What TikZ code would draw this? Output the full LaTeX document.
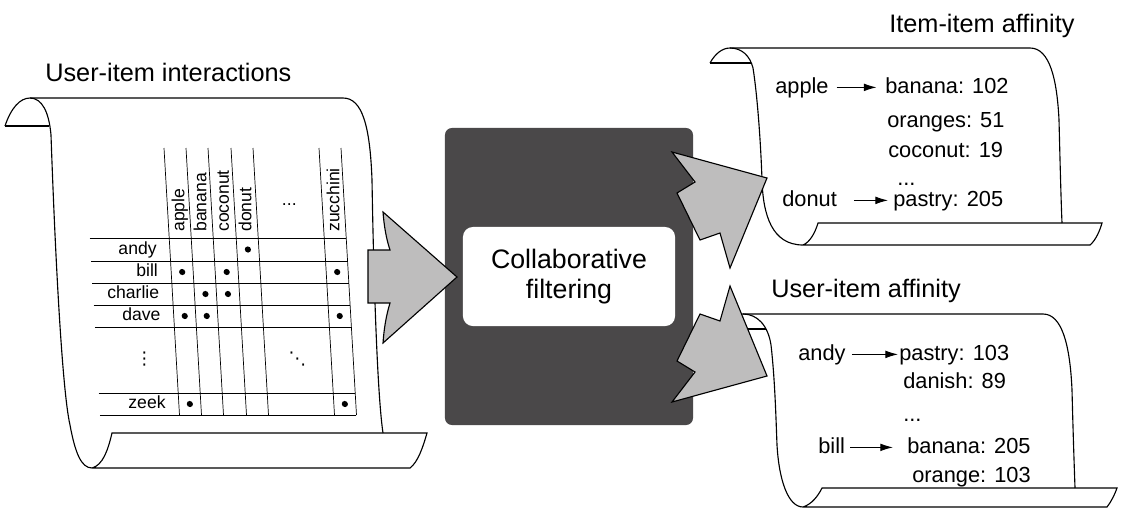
\documentclass[tikz,border=0pt]{standalone}
\usepackage{fontspec}
\setmainfont{Liberation Sans}
\newfontfamily\symfont{DejaVu Sans}
\usetikzlibrary{arrows.meta}

\definecolor{boxgray}{HTML}{4A4849}
\definecolor{arrowgray}{HTML}{BEBDBD}

\tikzset{
  scroll/.style={line width=0.8pt},
  gridline/.style={line width=0.5pt},
  fatarrow/.style={draw=black, fill=arrowgray, line width=0.8pt, line join=miter},
  title/.style={font=\fontsize{18}{21}\selectfont, inner sep=0pt, anchor=base west},
  entry/.style={font=\fontsize{15.5}{18}\selectfont, inner sep=0pt, anchor=base west, text height=11pt, text depth=3pt},
  gap/.style={entry, text height=2pt, text depth=0pt},
  cell/.style={font=\fontsize{12.5}{15}\selectfont, inner sep=0pt, text height=9pt, text depth=2.5pt},
  pointer/.style={-{Latex[length=9pt,width=5.5pt]}, line width=0.7pt},
  darkbox/.style={fill=boxgray, rounded corners=5pt, minimum width=6.2cm, minimum height=7.425cm},
  whitebox/.style={fill=white, rounded corners=7pt, minimum width=5.3cm, minimum height=2.475cm, align=center, font=\fontsize{19}{21.5}\selectfont},
}

\begin{document}
\begin{tikzpicture}[x=0.025cm, y=-0.025cm]
    \useasboundingbox (0,0) rectangle (1122,515);

    % User-item interactions scroll
    \draw[scroll] (5,126) -- (49,126);
    \draw[scroll] (5,126) .. controls (11,108) and (20,98) .. (30,98)
        .. controls (42,98) and (49,112) .. (51,135)
        .. controls (55,250) and (62,390) .. (70,425)
        .. controls (75,452) and (81,468) .. (92,468) -- (410,468)
        .. controls (418,462) and (423,447) .. (427,433) -- (112,433)
        .. controls (108,450) and (103,465) .. (92,468);
    \draw[scroll] (30,98) -- (343,98) .. controls (362,98) and (370,125) .. (372,180)
        .. controls (374,300) and (378,400) .. (383,433);
    \node[title] (ttable) at (45,81) {User-item interactions};

    % Interaction table (slanted)
    \begin{scope}[shift={(0,148)}, xslant=-0.058]
        \foreach \x in {164,186,208,231,253,319,341}
            \draw[gridline] (\x,0) -- (\x,267);
        \foreach \y in {90,113,135,157,179,245,267}
            \draw[gridline] (84.5,\y) -- (341,\y);
        % item headers
        \foreach \name/\x in {apple/175, banana/197, coconut/219.5, donut/242, zucchini/330}
            \node[cell, rotate=90, anchor=west] (h\name) at (\x,84) {\name};
        \node[cell, anchor=base] (hdots) at (286,57) {...};
        % users
        \foreach \name/\y in {andy/101.5, bill/124, charlie/146, dave/168, zeek/256}
            \node[cell, anchor=east] (r\name) at (151,\y) {\name};
        \node[cell] (rdots) at (132,212) {\symfont ⋮};
        \node[cell] (cdots) at (285,212) {\symfont ⋱};
        % interactions
        \foreach \x/\y in {242/101.5, 175/124, 219.5/124, 330/124, 197/146, 219.5/146,
                           175/168, 197/168, 330/168, 175/256, 330/256}
            \fill (\x,\y) circle (2.2pt);
    \end{scope}

    % Item-item affinity scroll
    \draw[scroll] (710,63) -- (751,63);
    \draw[scroll] (710,63) .. controls (715,54) and (722,48) .. (730,48)
        .. controls (742,48) and (750,56) .. (753,68)
        .. controls (758,100) and (761,150) .. (762,180)
        .. controls (763,215) and (772,245) .. (803,245) -- (1090,245)
        .. controls (1096,240) and (1100,230) .. (1102,223) -- (818,223)
        .. controls (815,233) and (810,242) .. (803,245);
    \draw[scroll] (730,48) -- (1030,48) .. controls (1050,48) and (1057,80) .. (1059,120)
        .. controls (1060,160) and (1061,200) .. (1062,223);
    \node[title] (titem) at (889,32) {Item-item affinity};

    \node[entry] (iapple) at (775,93) {apple};
    \node[entry] (ibanana) at (885,93) {banana: 102};
    \node[entry] (ioranges) at (887,127) {oranges: 51};
    \node[entry] (icoconut) at (888,157) {coconut: 19};
    \node[gap] (idots) at (897,185) {...};
    \node[entry] (idonut) at (782,206) {donut};
    \node[entry] (ipastry) at (893,206) {pastry: 205};
    \draw[pointer, shorten <=5.5pt, shorten >=6pt] (iapple) -- (ibanana);
    \draw[pointer, shorten <=12pt, shorten >=3.5pt] (idonut) -- (ipastry);

    % User-item affinity scroll
    \draw[scroll] (723,329) -- (766,329);
    \draw[scroll] (723,329) .. controls (728,320) and (735,314) .. (743,314)
        .. controls (757,314) and (768,325) .. (771,345)
        .. controls (775,380) and (776,420) .. (777,445)
        .. controls (779,480) and (788,507) .. (803,507) -- (1107,507)
        .. controls (1111,502) and (1115,494) .. (1117,488) -- (822,488)
        .. controls (818,496) and (812,504) .. (803,507);
    \draw[scroll] (743,314) -- (1043,314) .. controls (1062,314) and (1070,345) .. (1072,390)
        .. controls (1073,430) and (1074,460) .. (1075,488);
    \node[title] (tuser) at (771,297) {User-item affinity};

    \node[entry] (uandy) at (798,360) {andy};
    \node[entry] (upastry) at (899,360) {pastry: 103};
    \node[entry] (udanish) at (903,388) {danish: 89};
    \node[gap] (udots) at (903,421) {...};
    \node[entry] (ubill) at (818,453) {bill};
    \node[entry] (ubanana) at (907,453) {banana: 205};
    \node[entry] (uorange) at (912,482) {orange: 103};
    \draw[pointer, shorten <=4.3pt, shorten >=0.7pt] (uandy) -- (upastry);
    \draw[pointer, shorten <=3.5pt, shorten >=10pt] (ubill) -- (ubanana);

    % Collaborative filtering
    \node[darkbox] (cfback) at (569,276.5) {};
    \node[whitebox] (cf) at (569,276.5) {Collaborative\\filtering};

    % Fat arrows
    \draw[fatarrow] (368,250) -- (390,250) .. controls (386,238) and (384,225) .. (383,212)
        -- (457,277) -- (383,343) .. controls (384,329) and (386,316) .. (390,303)
        -- (368,303) -- cycle;
    \draw[fatarrow] (672,152) -- (767,178) -- (730,268) -- (720,233) -- (700,240)
        -- (677,193) -- (695,182) -- cycle;
    \draw[fatarrow] (672,402) -- (767,376) -- (730,286) -- (720,321) -- (700,314)
        -- (677,361) -- (695,372) -- cycle;
\end{tikzpicture}
\end{document}
